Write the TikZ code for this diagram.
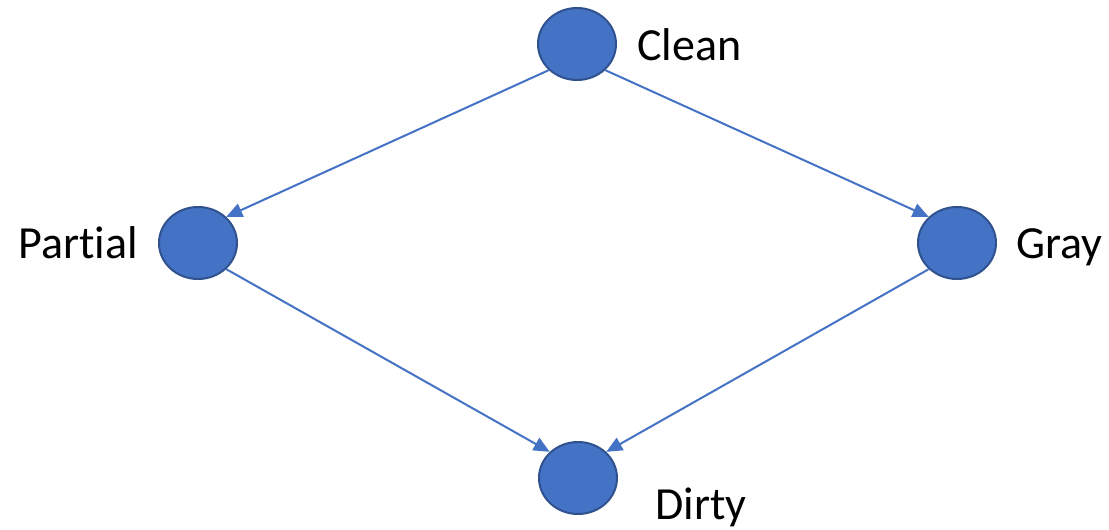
\documentclass[tikz,border=0pt]{standalone}
\usepackage{fontspec}
\setmainfont{Carlito}[Ligatures={NoCommon}]
\usetikzlibrary{shapes.geometric,arrows.meta}
\definecolor{bluefill}{HTML}{4472C4}
\definecolor{blueedge}{HTML}{2F528F}
\begin{document}
\begin{tikzpicture}[x=1pt,y=-1pt,
  state/.style={ellipse, draw=blueedge, fill=bluefill, line width=2pt,
    minimum width=78pt, minimum height=72pt, inner sep=0pt},
  flow/.style={draw=bluefill, line width=2pt,
    -{Triangle[length=16pt,width=14pt]}},
  caption/.style={anchor=base west, inner sep=0pt,
    font=\fontsize{46}{55}\selectfont}]
\useasboundingbox (0,0) rectangle (1109,530);
% states
\node[state] (clean)   at (577,44)  {};
\node[state] (partial) at (198,243) {};
\node[state] (gray)    at (957,243) {};
\node[state] (dirty)   at (578,478) {};
% labels
\node[caption] (lclean)   at (637,60)  {Clean};
\node[caption] (lpartial) at (18,258)  {Partial};
\node[caption] (lgray)    at (1016,258) {Gray};
\node[caption] (ldirty)   at (655,519) {Dirty};
% transitions
\draw[flow] (clean.south west) -- (partial.north east);
\draw[flow] (clean.south east) -- (gray.north west);
\draw[flow] (partial.south east) -- (dirty.north west);
\draw[flow] (gray.south west) -- (dirty.north east);
\end{tikzpicture}
\end{document}
